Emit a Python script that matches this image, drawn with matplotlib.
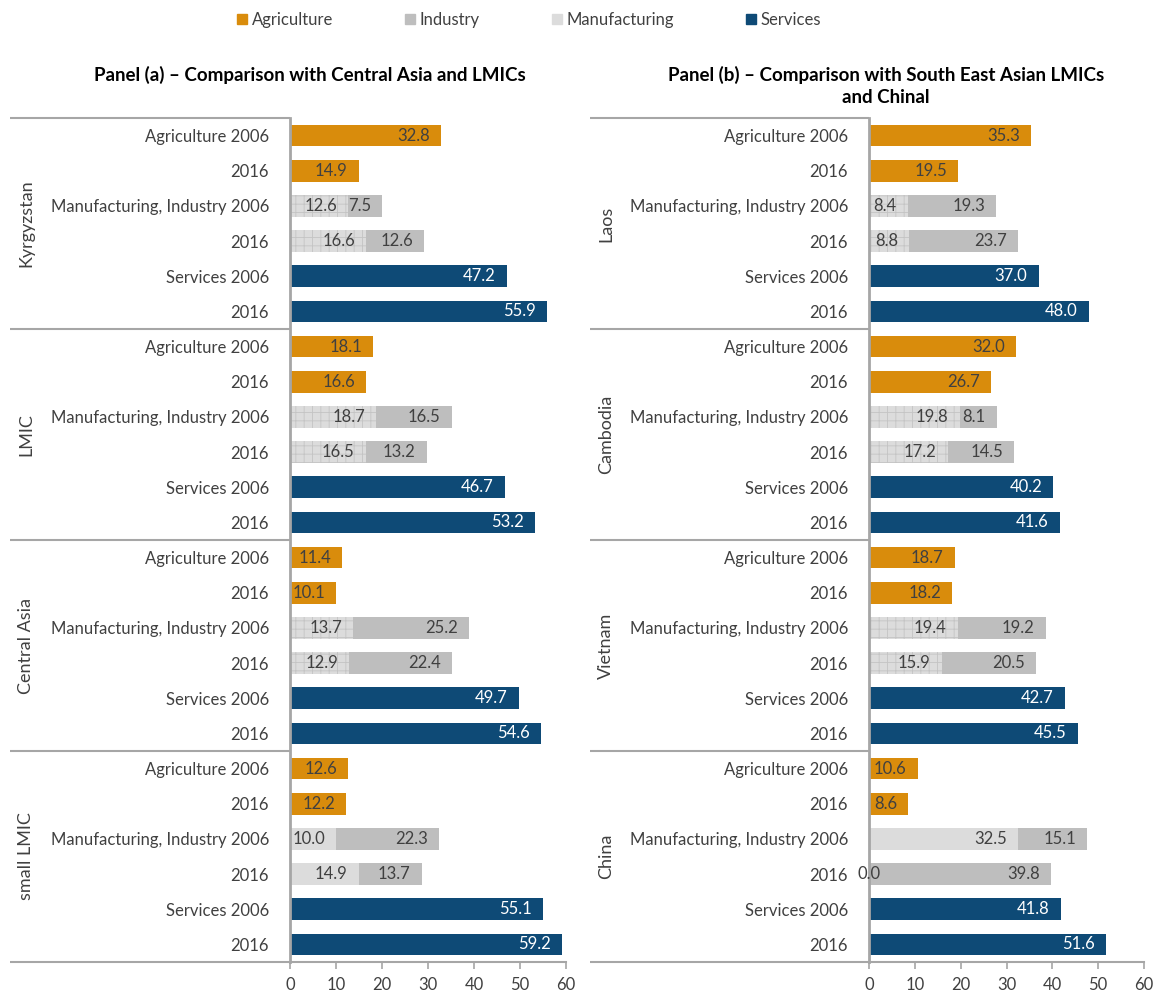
import matplotlib
matplotlib.use("Agg")
import matplotlib.pyplot as plt
from matplotlib.patches import Patch
import matplotlib.transforms as mtransforms

plt.rcParams['font.family'] = ['Lato', 'DejaVu Sans']
plt.rcParams['hatch.linewidth'] = 0.6

# ---------------- data ----------------
row_labels = ["Agriculture 2006", "2016", "Manufacturing, Industry 2006", "2016",
              "Services 2006", "2016"]

groups_a = ["Kyrgyzstan", "LMIC", "Central Asia", "small LMIC"]
agri_a = [[32.8, 14.9], [18.1, 16.6], [11.4, 10.1], [12.6, 12.2]]
manu_a = [[12.6, 16.6], [18.7, 16.5], [13.7, 12.9], [10.0, 14.9]]
indu_a = [[7.5, 12.6], [16.5, 13.2], [25.2, 22.4], [22.3, 13.7]]
serv_a = [[47.2, 55.9], [46.7, 53.2], [49.7, 54.6], [55.1, 59.2]]
hatch_a = [True, True, True, False]

groups_b = ["Laos", "Cambodia", "Vietnam", "China"]
agri_b = [[35.3, 19.5], [32.0, 26.7], [18.7, 18.2], [10.6, 8.6]]
manu_b = [[8.4, 8.8], [19.8, 17.2], [19.4, 15.9], [32.5, 0.0]]
indu_b = [[19.3, 23.7], [8.1, 14.5], [19.2, 20.5], [15.1, 39.8]]
serv_b = [[37.0, 48.0], [40.2, 41.6], [42.7, 45.5], [41.8, 51.6]]
hatch_b = [True, True, True, False]

title_a = "Panel (a) \u2013 Comparison with Central Asia and LMICs"
title_b = "Panel (b) \u2013 Comparison with South East Asian LMICs\nand Chinal"
xticks = [0, 10, 20, 30, 40, 50, 60]

# ---------------- style ----------------
C_AGRI = "#D98C0C"
C_IND = "#BEBEBE"
C_MAN = "#DCDCDC"
C_HATCH = "#C4C4C4"
C_SERV = "#0E4A76"
C_TXT = "#404040"
C_LINE = "#A6A6A6"
FS = 12
FS_GROUP = 13
FS_TITLE = 13.5
BH = 0.62

fig = plt.figure(figsize=(11.55, 9.91), dpi=100)


def label(ax, end, y, val, color):
    if val == 0:
        ax.annotate(f"{val:.1f}", (end, y), xytext=(0, 0), textcoords="offset points",
                    ha="center", va="center", fontsize=FS, color=color, annotation_clip=False)
    else:
        ax.annotate(f"{val:.1f}", (end, y), xytext=(-8, 0), textcoords="offset points",
                    ha="right", va="center", fontsize=FS, color=color)


def panel(ax, groups, agri, manu, indu, serv, hatched):
    yt, yl = [], []
    for g, name in enumerate(groups):
        base = g * 6
        for k in range(2):
            y = base + k
            ax.barh(y, agri[g][k], height=BH, color=C_AGRI, linewidth=0)
            label(ax, agri[g][k], y, agri[g][k], C_TXT)
        for k in range(2):
            y = base + 2 + k
            m = manu[g][k]
            if hatched[g]:
                ax.barh(y, m, height=BH, color=C_MAN, edgecolor=C_HATCH, hatch="++", linewidth=0)
            else:
                ax.barh(y, m, height=BH, color=C_MAN, linewidth=0)
            ax.barh(y, indu[g][k], left=m, height=BH, color=C_IND, linewidth=0)
            label(ax, m, y, m, C_TXT)
            label(ax, m + indu[g][k], y, indu[g][k], C_TXT)
        for k in range(2):
            y = base + 4 + k
            ax.barh(y, serv[g][k], height=BH, color=C_SERV, linewidth=0)
            label(ax, serv[g][k], y, serv[g][k], "white")
        for i, t in enumerate(row_labels):
            yt.append(base + i)
            yl.append(t)
        trans = mtransforms.blended_transform_factory(ax.transAxes, ax.transData)
        ax.text(-0.955, base + 2.5, name, rotation=90, ha="center", va="center",
                fontsize=FS_GROUP, color=C_TXT, transform=trans)
    n = len(groups) * 6
    ax.set_ylim(n - 0.5, -0.5)
    ax.set_xlim(0, 60)
    ax.set_yticks(yt)
    ax.set_yticklabels(yl, fontsize=FS, color=C_TXT)
    ax.tick_params(axis="y", length=0, pad=15)
    ax.set_xticks(xticks)
    ax.tick_params(axis="x", length=5, width=1.2, color=C_LINE, labelsize=FS,
                   labelcolor=C_TXT, pad=6, direction="out")
    for s in ["top", "right"]:
        ax.spines[s].set_visible(False)
    ax.spines["left"].set_color(C_LINE)
    ax.spines["left"].set_linewidth(2)
    ax.spines["bottom"].set_color(C_LINE)
    ax.spines["bottom"].set_linewidth(1.5)
    trans = mtransforms.blended_transform_factory(ax.transAxes, ax.transData)
    for g in range(len(groups) + 1):
        yy = g * 6 - 0.5
        ax.plot([-1.015, 0], [yy, yy], color=C_LINE, lw=1.5, transform=trans,
                clip_on=False, solid_capstyle="butt")


ax_a = fig.add_axes([290 / 1155, 1 - 962 / 991, 276 / 1155, 844 / 991])
ax_b = fig.add_axes([869 / 1155, 1 - 962 / 991, 275 / 1155, 844 / 991])
panel(ax_a, groups_a, agri_a, manu_a, indu_a, serv_a, hatch_a)
panel(ax_b, groups_b, agri_b, manu_b, indu_b, serv_b, hatch_b)

fig.text(310 / 1155, 1 - 75 / 991, title_a, ha="center", va="center",
         fontsize=FS_TITLE, fontweight="bold", color="#000000")
fig.text(886 / 1155, 1 - 86 / 991, title_b, ha="center", va="center",
         fontsize=FS_TITLE, fontweight="bold", color="#000000", linespacing=1.35,
         multialignment="center")

handles = [Patch(color=C_AGRI), Patch(color=C_IND), Patch(color=C_MAN), Patch(color=C_SERV)]
names = ["Agriculture", "Industry", "Manufacturing", "Services"]
fig.legend(handles, names, loc="center", bbox_to_anchor=(529 / 1155, 1 - 20 / 991),
           ncol=4, frameon=False, fontsize=FS, handlelength=0.6, handleheight=0.6,
           handletextpad=0.3, columnspacing=4.3, labelcolor=C_TXT)

fig.savefig("out.png", dpi=100)
